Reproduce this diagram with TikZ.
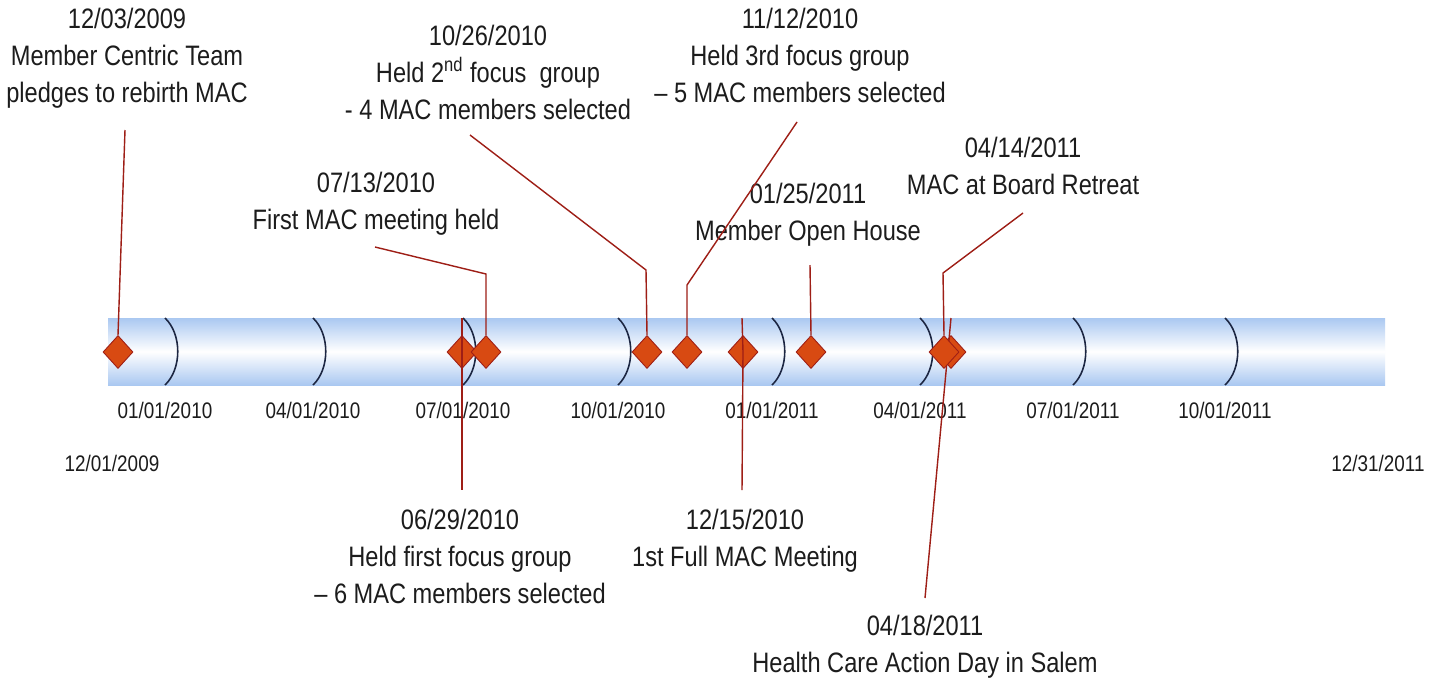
\documentclass[tikz,border=0pt]{standalone}
\usepackage{fontspec}
\setmainfont{Liberation Sans}[FakeStretch=0.84]
\usetikzlibrary{shapes.geometric}

\definecolor{barblue}{RGB}{170,200,241}
\definecolor{ticknavy}{RGB}{28,38,66}
\definecolor{eventfill}{RGB}{216,74,18}
\definecolor{eventline}{RGB}{158,30,22}
\definecolor{inkgray}{RGB}{28,28,28}

\tikzset{
  event/.style={diamond, draw=eventline, fill=eventfill, line width=0.5pt,
    minimum width=0.6cm, minimum height=0.66cm, inner sep=0pt},
  leader/.style={eventline, line width=0.8pt},
  quarter/.style={ticknavy, line width=0.9pt},
  caption/.style={anchor=north, align=center, inner sep=0pt, text=inkgray,
    font=\fontsize{16}{21}\selectfont},
  datemark/.style={inner sep=0pt, text=inkgray, font=\fontsize{12.8}{15}\selectfont}
}

\begin{document}
\begin{tikzpicture}[x=0.02cm, y=-0.02cm]
    \useasboundingbox[fill=white] (0,0) rectangle (1442,677);

    % Time bar
    \shade[top color=barblue, bottom color=barblue, middle color=white]
        (108,318) rectangle (1385,385);
    \foreach \x/\q [count=\i] in {165/{01/01/2010}, 313/{04/01/2010}, 463/{07/01/2010},
        618/{10/01/2010}, 772/{01/01/2011}, 920/{04/01/2011}, 1073/{07/01/2011}, 1225/{10/01/2011}} {
        \draw[quarter] (\x,318) .. controls (\x+17,334) and (\x+17,369) .. (\x,385);
        \node[datemark] (q\i) at (\x,410) {\q};
    }
    \node[datemark] (start) at (112,463) {12/01/2009};
    \node[datemark] (end) at (1378,463) {12/31/2011};

    % Events
    \node[event] (d1) at (118,352) {};
    \node[event] (d2) at (462,352) {};
    \node[event] (d3) at (486,352) {};
    \node[event] (d4) at (647,352) {};
    \node[event] (d5) at (687,352) {};
    \node[event] (d6) at (743,352) {};
    \node[event] (d7) at (811,352) {};
    \node[event] (d9) at (951,352) {};
    \coordinate (t9) at (951,318);
    \coordinate (b9) at (925,598);
    \draw[leader] (t9) -- (b9);
    \node[event] (d8) at (944,352) {};

    % Captions above
    \node[caption] (lA) at (127,8) {12/03/2009\\Member Centric Team\\pledges to rebirth MAC};
    \node[caption] (lB) at (488,25) {10/26/2010\\Held 2\textsuperscript{nd} focus\ \ group\\- 4 MAC members selected};
    \node[caption] (lC) at (800,8) {11/12/2010\\Held 3rd focus group\\– 5 MAC members selected};
    \node[caption] (lD) at (376,172) {07/13/2010\\First MAC meeting held};
    \node[caption] (lE) at (808,183) {01/25/2011\\Member Open House};
    \node[caption] (lF) at (1023,137) {04/14/2011\\MAC at Board Retreat};

    % Captions below
    \node[caption] (lG) at (460,509) {06/29/2010\\Held first focus group\\– 6 MAC members selected};
    \node[caption] (lH) at (745,509) {12/15/2010\\1st Full MAC Meeting};
    \node[caption] (lI) at (925,615) {04/18/2011\\Health Care Action Day in Salem};

    % Leaders
    \coordinate (e1) at (125,130);
    \draw[leader] (e1) -- (d1.north);
    \coordinate (t2) at (462,318);
    \coordinate (b2) at (462,490);
    \draw[leader] (t2) -- (d2.center) -- (b2);
    \coordinate (e3) at (375,247);
    \coordinate (k3) at (486,274);
    \draw[leader] (e3) -- (k3) -- (d3.north);
    \coordinate (e4) at (470,135);
    \coordinate (k4) at (646,270);
    \draw[leader] (e4) -- (k4) -- (d4.north);
    \coordinate (e5) at (797,122);
    \coordinate (k5) at (687,285);
    \draw[leader] (e5) -- (k5) -- (d5.north);
    \coordinate (t6) at (742,318);
    \coordinate (b6) at (742,490);
    \draw[leader] (t6) -- (d6.center) -- (b6);
    \coordinate (e7) at (810,265);
    \draw[leader] (e7) -- (d7.north);
    \coordinate (e8) at (1023,213);
    \coordinate (k8) at (943,273);
    \draw[leader] (e8) -- (k8) -- (d8.north);
\end{tikzpicture}
\end{document}
